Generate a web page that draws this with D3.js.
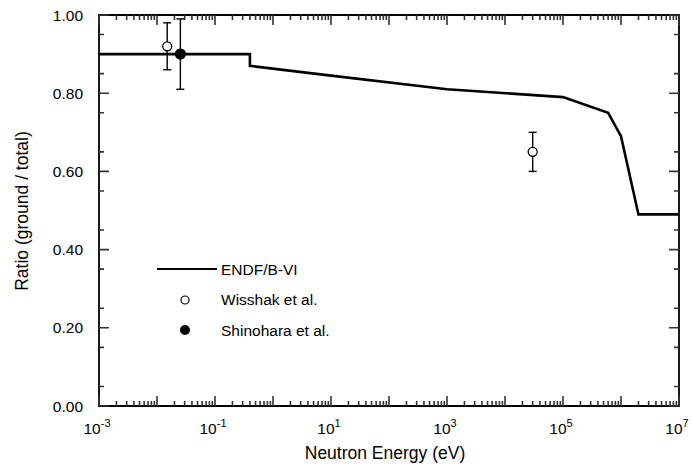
<!DOCTYPE html>
<html><head><meta charset="utf-8">
<script src="https://cdn.jsdelivr.net/npm/d3@7"></script>
<style>body{margin:0;background:#fff}svg{display:block}text{font-family:"Liberation Sans",Arial,Helvetica,sans-serif;fill:#000}</style>
</head><body><svg id="c" width="692" height="467"></svg>
<script>
// ENDF/B-VI curve
const endfE = [1e-3, 0.4, 0.4, 10, 1000, 1e5, 6e5, 1e6, 2e6, 1e7];
const endfR = [0.90, 0.90, 0.87, 0.845, 0.81, 0.79, 0.75, 0.69, 0.49, 0.49];
// Wisshak et al.
const wissE = [0.015, 3e4];
const wissR = [0.92, 0.65];
const wissErr = [0.06, 0.05];
// Shinohara et al.
const shinE = [0.0253];
const shinR = [0.90];
const shinErr = [0.09];
const yTicks = [0, 0.2, 0.4, 0.6, 0.8, 1.0];
const xLabelPowers = [-3, -1, 1, 3, 5, 7];
const legendLabels = ["ENDF/B-VI", "Wisshak et al.", "Shinohara et al."];

const svg = d3.select("#c");
const L = 99, R = 679, T = 15, B = 406;
const x = d3.scaleLog().domain([1e-3, 1e7]).range([L, R]);
const y = d3.scaleLinear().domain([0, 1]).range([B, T]);

const majorX = d3.range(-3, 8).map(p => Math.pow(10, p));
const minorX = [];
for (let p = -3; p < 7; p++) for (let k = 2; k <= 9; k++) minorX.push(k * Math.pow(10, p));
const minorY = d3.range(1, 20, 2).map(i => i * 0.05);

// frame
const fp = d3.path();
fp.moveTo(L, T); fp.lineTo(R, T); fp.lineTo(R, B); fp.lineTo(L, B); fp.closePath();
svg.append("path").attr("d", fp.toString()).attr("fill", "none")
  .attr("stroke", "#000").attr("stroke-width", 1.8);

// ticks (inward, all four sides)
const tp = d3.path();
function addX(vals, len) {
  vals.forEach(v => {
    tp.moveTo(x(v), B); tp.lineTo(x(v), B - len);
    tp.moveTo(x(v), T); tp.lineTo(x(v), T + len);
  });
}
function addY(vals, len) {
  vals.forEach(v => {
    tp.moveTo(L, y(v)); tp.lineTo(L + len, y(v));
    tp.moveTo(R, y(v)); tp.lineTo(R - len, y(v));
  });
}
addX(majorX, 10); addX(minorX, 5); addY(yTicks, 10); addY(minorY, 5);
svg.append("path").attr("d", tp.toString()).attr("fill", "none")
  .attr("stroke", "#333").attr("stroke-width", 1.6);

// y labels
svg.append("g").selectAll("text").data(yTicks).join("text")
  .attr("x", L - 16).attr("y", d => y(d)).attr("dy", "0.36em")
  .attr("text-anchor", "end").attr("font-size", 15.5).text(d => d.toFixed(2));
// x labels
const xl = svg.append("g").selectAll("text").data(xLabelPowers).join("text")
  .attr("x", d => x(Math.pow(10, d)) - 2).attr("y", B + 28)
  .attr("text-anchor", "middle").attr("font-size", 15.5);
xl.append("tspan").text("10");
xl.append("tspan").attr("dy", -7).attr("font-size", 11).text(d => d);

// titles
svg.append("text").attr("x", 385).attr("y", 459).attr("text-anchor", "middle")
  .attr("font-size", 17.5).text("Neutron Energy (eV)");
svg.append("text").attr("transform", "translate(28,211) rotate(-90)").attr("text-anchor", "middle")
  .attr("font-size", 17.5).text("Ratio (ground / total)");

// ENDF line
const line = d3.line().x(d => x(d[0])).y(d => y(d[1]));
svg.append("path").datum(endfE.map((e, i) => [e, endfR[i]]))
  .attr("d", line).attr("fill", "none").attr("stroke", "#000").attr("stroke-width", 2.6)
  .attr("stroke-linejoin", "miter");

// error bars + points
function seg(parent, data, x1, x2, y1, y2, w) {
  parent.append("g").selectAll("line").data(data).join("line")
    .attr("x1", x1).attr("x2", x2).attr("y1", y1).attr("y2", y2)
    .attr("stroke", "#000").attr("stroke-width", w);
}
function points(E, Rv, Err, filled) {
  const d = E.map((e, i) => ({ e, r: Rv[i], s: Err[i] }));
  const g = svg.append("g");
  seg(g, d, p => x(p.e), p => x(p.e), p => y(p.r + p.s), p => y(p.r - p.s), 1.4);
  [1, -1].forEach(sg => {
    seg(g, d, p => x(p.e) - 4, p => x(p.e) + 4, p => y(p.r + sg * p.s), p => y(p.r + sg * p.s), 1.4);
  });
  g.append("g").selectAll("circle").data(d).join("circle")
    .attr("cx", p => x(p.e)).attr("cy", p => y(p.r)).attr("r", filled ? 5 : 4.5)
    .attr("fill", filled ? "#000" : "#fff").attr("stroke", "#000").attr("stroke-width", 1.3);
}
points(wissE, wissR, wissErr, false);
points(shinE, shinR, shinErr, true);

// legend
const lg = svg.append("g");
lg.append("line").attr("x1", 157).attr("x2", 217).attr("y1", 269).attr("y2", 269)
  .attr("stroke", "#000").attr("stroke-width", 2.2);
lg.append("circle").attr("cx", 185).attr("cy", 300).attr("r", 4).attr("fill", "#fff")
  .attr("stroke", "#000").attr("stroke-width", 1.2);
lg.append("circle").attr("cx", 185).attr("cy", 330).attr("r", 5).attr("fill", "#000");
lg.selectAll("text").data(legendLabels).join("text")
  .attr("x", 221).attr("y", (d, i) => 269 + i * 30.5).attr("dy", "0.36em")
  .attr("font-size", 15.5).text(d => d);
</script></body></html>
